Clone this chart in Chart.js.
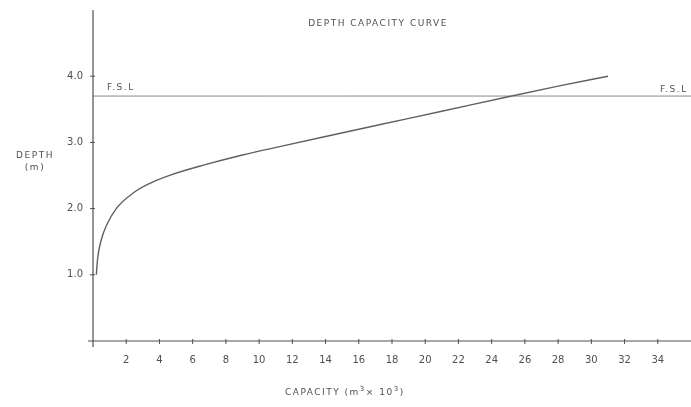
<!DOCTYPE html>
<html>
<head>
<meta charset="utf-8">
<script src="https://cdn.jsdelivr.net/npm/chart.js@4.4.0/dist/chart.umd.min.js"></script>
<style>
  html, body { margin: 0; padding: 0; background: #fff; }
  #wrap { width: 691px; height: 407px; }
</style>
</head>
<body>
<div id="wrap"><canvas id="depthChart"></canvas></div>
<script>
// values
const capacity = [0.2, 0.28, 0.5, 0.8, 1.4, 2.5, 3.5, 4.7, 6.7, 9, 11.3, 14, 17.3, 21, 25, 28, 31];
const depth = [1.0, 1.25, 1.53, 1.74, 2.0, 2.25, 2.39, 2.51, 2.66, 2.81, 2.94, 3.09, 3.27, 3.47, 3.69, 3.85, 4.0];
const fsl = 3.7;
const xTicks = [2, 4, 6, 8, 10, 12, 14, 16, 18, 20, 22, 24, 26, 28, 30, 32, 34];
const yTicks = [1, 2, 3, 4];

const ink = '#505050';
const font = '"DejaVu Sans", sans-serif';

const drawingPlugin = {
    id: 'drawing',
    afterDraw(chart) {
        const ctx = chart.ctx;
        const x = chart.scales.x;
        const y = chart.scales.y;
        const x0 = x.getPixelForValue(0);
        const y0 = y.getPixelForValue(0);
        ctx.save();
        ctx.strokeStyle = ink;
        ctx.lineWidth = 1.2;
        // axes
        ctx.beginPath();
        ctx.moveTo(x0, y.getPixelForValue(5));
        ctx.lineTo(x0, y0 + 6);
        ctx.moveTo(x0 - 5, y0);
        ctx.lineTo(x.getPixelForValue(36), y0);
        ctx.stroke();
        // tick marks crossing the axes
        ctx.lineWidth = 1;
        ctx.beginPath();
        xTicks.forEach(v => {
            const px = x.getPixelForValue(v);
            ctx.moveTo(px, y0 - 2);
            ctx.lineTo(px, y0 + 3);
        });
        yTicks.forEach(v => {
            const py = y.getPixelForValue(v);
            ctx.moveTo(x0 - 3, py);
            ctx.lineTo(x0 + 2, py);
        });
        ctx.stroke();

        // lettering
        ctx.fillStyle = ink;
        ctx.font = '9px ' + font;
        ctx.letterSpacing = '1.5px';
        ctx.textBaseline = 'middle';
        ctx.textAlign = 'center';
        ctx.fillText('DEPTH CAPACITY CURVE', 378, 24);
        ctx.fillText('DEPTH', 35, 156);
        ctx.fillText('(m)', 35, 168);
        ctx.textAlign = 'left';
        ctx.fillText('F.S.L', 107, 88);
        ctx.fillText('F.S.L', 660, 90);
        ctx.fillText('CAPACITY (m', 285, 393);
        let w = ctx.measureText('CAPACITY (m').width;
        ctx.font = '7px ' + font;
        ctx.letterSpacing = '0px';
        ctx.fillText('3', 285 + w, 389);
        ctx.font = '9px ' + font;
        ctx.letterSpacing = '1.5px';
        ctx.fillText('\u00d7 10', 285 + w + 6, 393);
        w += 6 + ctx.measureText('\u00d7 10').width;
        ctx.font = '7px ' + font;
        ctx.letterSpacing = '0px';
        ctx.fillText('3', 285 + w, 389);
        ctx.font = '9px ' + font;
        ctx.fillText(')', 285 + w + 6, 393);
        ctx.restore();
    }
};

new Chart(document.getElementById('depthChart'), {
    type: 'scatter',
    data: {
        datasets: [{
            label: 'Depth capacity',
            data: capacity.map((c, i) => ({ x: c, y: depth[i] })),
            showLine: true,
            borderColor: '#606060',
            borderWidth: 1.4,
            pointRadius: 0,
            cubicInterpolationMode: 'monotone'
        }, {
            label: 'F.S.L',
            data: [{ x: 0, y: fsl }, { x: 36, y: fsl }],
            showLine: true,
            borderColor: '#8a8a8a',
            borderWidth: 1,
            pointRadius: 0
        }]
    },
    plugins: [drawingPlugin],
    options: {
        responsive: true,
        maintainAspectRatio: false,
        animation: false,
        layout: { padding: { top: 10, right: 0, left: 0, bottom: 0 } },
        plugins: {
            legend: { display: false },
            tooltip: { enabled: false }
        },
        scales: {
            x: {
                type: 'linear',
                min: 0,
                max: 36,
                afterFit: s => { s.height = 66; },
                afterBuildTicks: s => { s.ticks = xTicks.map(v => ({ value: v })); },
                grid: { display: false },
                border: { display: false },
                ticks: { color: ink, padding: 5, font: { family: font, size: 10 }, autoSkip: false, maxRotation: 0 }
            },
            y: {
                type: 'linear',
                min: 0,
                max: 5,
                afterFit: s => { s.width = 93; },
                afterBuildTicks: s => { s.ticks = yTicks.map(v => ({ value: v })); },
                grid: { display: false },
                border: { display: false },
                ticks: {
                    color: ink,
                    padding: 2,
                    font: { family: font, size: 10 },
                    callback: v => v.toFixed(1)
                }
            }
        }
    }
});
</script>
</body>
</html>
